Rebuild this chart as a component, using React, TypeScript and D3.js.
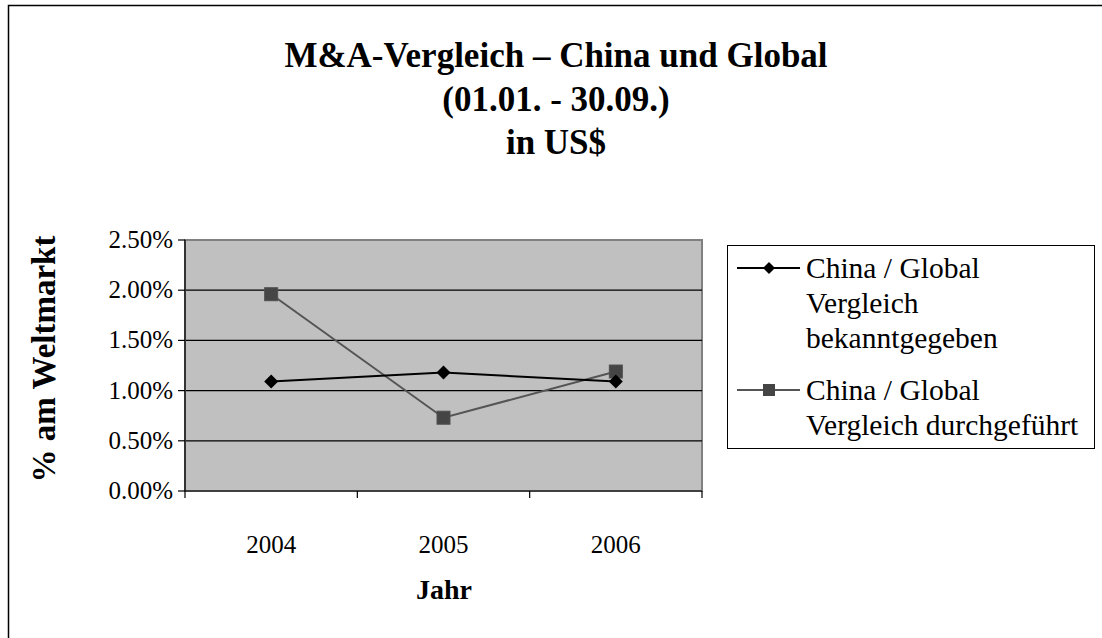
import React from "react";
import * as d3 from "d3";

const years = ["2004", "2005", "2006"];
const announced = [0.0109, 0.0118, 0.0109];
const completed = [0.0196, 0.0073, 0.0119];
const yTicks = [0, 0.005, 0.01, 0.015, 0.02, 0.025];
const titleLines = ["M&A-Vergleich – China und Global", "(01.01. - 30.09.)", "in US$"];
const legendLabels = [
  ["China / Global", "Vergleich", "bekanntgegeben"],
  ["China / Global", "Vergleich durchgeführt"],
];

const FONT = "'Liberation Serif', 'Times New Roman', serif";

export default function App() {
  const W = 1102, H = 638;
  const left = 185, right = 702, top = 240, bottom = 491;
  const x = d3.scaleBand<string>().domain(years).range([left, right]).padding(0);
  const y = d3.scaleLinear().domain([0, 0.025]).range([bottom, top]);
  const cx = (d: string) => (x(d) as number) + x.bandwidth() / 2;
  const line = d3.line<number>().x((_, i) => cx(years[i])).y((v) => y(v));
  const fmt = (v: number) => (v * 100).toFixed(2) + "%";
  const diamond = (px: number, py: number, r: number) =>
    `M${px},${py - r}L${px + r},${py}L${px},${py + r}L${px - r},${py}Z`;
  const boundaries = [left, ...years.map((d) => (x(d) as number) + x.bandwidth())];
  const titleBase = [67, 111, 154];

  return (
    <svg width={W} height={H} style={{ position: "absolute", left: 0, top: 0, display: "block" }} fontFamily={FONT}>
      <rect x={0} y={0} width={W} height={H} fill="#fff" />
      <rect x={8.5} y={5.5} width={W + 10} height={H + 10} fill="#fff" stroke="#000" strokeWidth={1.5} />
      {titleLines.map((t, i) => (
        <text key={i} x={556} y={titleBase[i]} textAnchor="middle" fontWeight="bold" fontSize={35} fill="#000">
          {t}
        </text>
      ))}
      {/* plot area */}
      <rect x={left} y={top} width={right - left} height={bottom - top} fill="#c0c0c0" stroke="#808080" strokeWidth={2} />
      {yTicks.slice(1, -1).map((t) => (
        <line key={t} x1={left} x2={right} y1={y(t)} y2={y(t)} stroke="#000" strokeWidth={1.2} />
      ))}
      {/* axes */}
      <line x1={left} x2={left} y1={top} y2={bottom} stroke="#333" strokeWidth={2} />
      <line x1={left} x2={right} y1={bottom} y2={bottom} stroke="#000" strokeWidth={1.2} />
      {yTicks.map((t) => (
        <g key={t}>
          <line x1={left - 7} x2={left} y1={y(t)} y2={y(t)} stroke="#000" strokeWidth={1.2} />
          <text x={left - 12} y={y(t) + 8} textAnchor="end" fontSize={25} fill="#000">
            {fmt(t)}
          </text>
        </g>
      ))}
      {boundaries.map((b, i) => (
        <line key={i} x1={b} x2={b} y1={bottom} y2={bottom + 7} stroke="#000" strokeWidth={1.2} />
      ))}
      {years.map((d) => (
        <text key={d} x={cx(d)} y={553} textAnchor="middle" fontSize={25} fill="#000">
          {d}
        </text>
      ))}
      <text x={444} y={599} textAnchor="middle" fontWeight="bold" fontSize={28} fill="#000">Jahr</text>
      <text transform={`translate(55,359) rotate(-90)`} textAnchor="middle" fontWeight="bold" fontSize={33} fill="#000">
        % am Weltmarkt
      </text>
      {/* series */}
      <path d={line(completed) || ""} fill="none" stroke="#555" strokeWidth={2} />
      <path d={line(announced) || ""} fill="none" stroke="#000" strokeWidth={2} />
      {completed.map((v, i) => (
        <rect key={i} x={cx(years[i]) - 6.5} y={y(v) - 6.5} width={13} height={13} fill="#454545" stroke="#505050" strokeWidth={1} />
      ))}
      {announced.map((v, i) => (
        <path key={i} d={diamond(cx(years[i]), y(v), 7)} fill="#000" />
      ))}
      {/* legend */}
      <rect x={727.5} y={245.5} width={367} height={203} fill="#fff" stroke="#000" strokeWidth={1} />
      <line x1={737} x2={800} y1={268} y2={268} stroke="#000" strokeWidth={2} />
      <path d={diamond(769, 268, 6)} fill="#000" />
      {legendLabels[0].map((t, i) => (
        <text key={i} x={806} y={278 + i * 35} fontSize={29.5} fill="#000">{t}</text>
      ))}
      <line x1={737} x2={800} y1={390} y2={390} stroke="#555" strokeWidth={2} />
      <rect x={763} y={384} width={12} height={12} fill="#454545" />
      {legendLabels[1].map((t, i) => (
        <text key={i} x={806} y={400 + i * 35} fontSize={29.5} fill="#000">{t}</text>
      ))}
    </svg>
  );
}
